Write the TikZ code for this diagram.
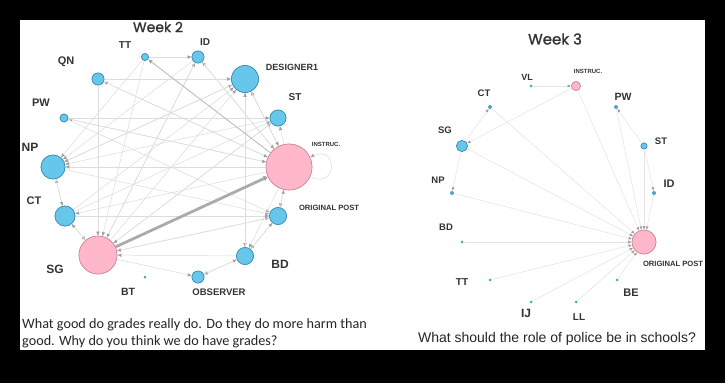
\documentclass[tikz,border=0pt]{standalone}
\usepackage{fontspec}
\setmainfont{Liberation Sans}
\newfontfamily\poppinsf{Poppins}[FakeBold=1.2]
\newfontfamily\carlitof{Carlito}
\usetikzlibrary{arrows.meta}
\definecolor{bluefill}{HTML}{66C7EA}
\definecolor{bluedark}{HTML}{3A8DB5}
\definecolor{dotblue}{HTML}{4AA3CF}
\definecolor{pinkfill}{HTML}{FFB7C9}
\definecolor{pinkdark}{HTML}{C98A99}
\definecolor{edgegray}{HTML}{DCDCDC}
\definecolor{edgemid}{HTML}{BDBDBD}
\definecolor{thickgray}{HTML}{ABABAB}
\definecolor{arrowgray}{HTML}{9E9E9E}
\definecolor{lblgray}{HTML}{333333}
\newcommand{\lsz}[1]{\fontsize{#1}{#1}\selectfont}
\tikzset{
  bnode/.style={circle, draw=bluedark, fill=bluefill, line width=0.6pt, inner sep=0pt, minimum size=#1},
  pnode/.style={circle, draw=pinkdark, fill=pinkfill, line width=0.6pt, inner sep=0pt, minimum size=#1},
  dotnode/.style={circle, fill=dotblue, inner sep=0pt, minimum size=#1},
  lbl/.style={text=lblgray, inner sep=0pt, font=\bfseries\lsz{#1}},
  lnk/.style={draw=edgegray, line width=0.5pt, -{Latex[length=4pt,width=3.5pt,color=arrowgray]}},
  lnkmid/.style={draw=edgemid, line width=0.9pt, -{Latex[length=4.5pt,width=4pt,color=arrowgray]}},
  lnkthick/.style={draw=thickgray, line width=2.8pt, -{Latex[length=4pt,width=6pt,color=arrowgray]}},
  lnkr/.style={draw=edgegray!80, line width=0.5pt, -{Latex[length=3.5pt,width=3pt,color=arrowgray]}},
}
\begin{document}
\begin{tikzpicture}[x=1pt,y=-1pt]
\useasboundingbox (0,0) rectangle (725,383);
\fill[black] (0,0) rectangle (725,383);
\fill[white] (20,20) rectangle (705,350);

% ---------- Week 2 ----------
\node[font=\poppinsf\lsz{14}, text=lblgray, inner sep=0pt] (w2) at (158,27) {Week 2};

\node[bnode=7pt]  (ttl)  at (145,57) {};
\node[bnode=12pt] (idl)  at (198,57) {};
\node[bnode=27pt] (dsl)  at (245,79) {};
\node[bnode=12pt] (qnl)  at (98,79) {};
\node[bnode=8pt]  (pwl)  at (64,118) {};
\node[bnode=16pt] (stl)  at (278,118) {};
\node[bnode=24pt] (npl)  at (53,167) {};
\node[pnode=46pt] (instl) at (289,167) {};
\node[bnode=20pt] (ctl)  at (65,216) {};
\node[bnode=17pt] (opl)  at (278,216) {};
\node[pnode=38pt] (sgl)  at (98,255) {};
\node[bnode=17pt] (bdl)  at (245,256) {};
\node[dotnode=3pt] (btl) at (145,277) {};
\node[bnode=12pt] (obsl) at (198,277) {};

\foreach \a/\b in {instl/qnl, instl/pwl, instl/npl, instl/ctl, instl/stl, instl/idl,
  instl/opl, opl/instl, instl/dsl, ttl/idl, qnl/dsl, pwl/stl, pwl/opl, pwl/instl,
  npl/dsl, npl/opl, ctl/npl, npl/ctl, ctl/dsl, ctl/stl, ctl/sgl, sgl/ctl, sgl/idl,
  sgl/stl, sgl/opl, qnl/sgl, idl/sgl, idl/npl, dsl/npl, ttl/sgl, ttl/npl, dsl/bdl,
  bdl/dsl, opl/bdl, bdl/opl, bdl/obsl, obsl/bdl, bdl/sgl, sgl/obsl, stl/sgl,
  instl/bdl, ctl/opl, qnl/instl, idl/instl, stl/npl, dsl/instl, opl/sgl}
  \draw[lnk] (\a) -- (\b);
\draw[lnkmid] (instl) -- (ttl);
\draw[lnk] (sgl) -- (dsl);
\draw[lnkthick] (sgl) -- (instl);
\draw[lnk] (instl) to[out=-25,in=25,looseness=4] (instl);

\node[bnode=7pt]  at (145,57) {};
\node[bnode=12pt] at (198,57) {};
\node[bnode=27pt] at (245,79) {};
\node[bnode=12pt] at (98,79) {};
\node[bnode=8pt]  at (64,118) {};
\node[bnode=16pt] at (278,118) {};
\node[bnode=24pt] at (53,167) {};
\node[pnode=46pt] at (289,167) {};
\node[bnode=20pt] at (65,216) {};
\node[bnode=17pt] at (278,216) {};
\node[pnode=38pt] at (98,255) {};
\node[bnode=17pt] at (245,256) {};
\node[bnode=12pt] at (198,277) {};

\node[lbl=10]  (lttl)  at (125,45) {TT};
\node[lbl=10]  (lidl)  at (205,42) {ID};
\node[lbl=9]   (ldsl)  at (292,67) {DESIGNER1};
\node[lbl=11]  (lqnl)  at (66,62) {QN};
\node[lbl=11]  (lpwl)  at (41,103) {PW};
\node[lbl=10]  (lstl)  at (295,97) {ST};
\node[lbl=6]   (linstl) at (326,144) {INSTRUC.};
\node[lbl=12]  (lnpl)  at (30,147) {NP};
\node[lbl=11]  (lctl)  at (34,201) {CT};
\node[lbl=7.6] (lopl)  at (329,208) {ORIGINAL POST};
\node[lbl=12]  (lsgl)  at (55,269) {SG};
\node[lbl=12]  (lbdl)  at (280,264) {BD};
\node[lbl=10.5] (lbtl) at (128,292) {BT};
\node[lbl=9.5] (lobsl) at (219,292) {OBSERVER};

\node[font=\carlitof\lsz{14.2}, text=black!85, inner sep=0pt, anchor=base west] (q2a) at (22,328)
  {What good do grades really do. Do they do more harm than};
\node[font=\carlitof\lsz{14.2}, text=black!85, inner sep=0pt, anchor=base west] (q2b) at (22,345)
  {good. Why do you think we do have grades?};

% ---------- Week 3 ----------
\node[font=\poppinsf\lsz{15}, text=lblgray, inner sep=0pt] (w3) at (555,39) {Week 3};

\node[dotnode=3pt] (vlr) at (531,86) {};
\node[pnode=9pt]   (instr) at (576,86) {};
\node[dotnode=4pt] (ctr) at (490,107) {};
\node[dotnode=4pt] (pwr) at (616,107) {};
\node[bnode=11pt]  (sgr) at (462,146) {};
\node[bnode=6pt]   (str) at (644,146) {};
\node[dotnode=4pt] (npr) at (452,193) {};
\node[dotnode=4pt] (idr) at (654,193) {};
\node[pnode=24pt]  (opr) at (644,242) {};
\node[dotnode=3pt] (bdr) at (462,242) {};
\node[dotnode=3pt] (ttr) at (490,280) {};
\node[dotnode=3pt] (ber) at (617,280) {};
\node[dotnode=3pt] (ijr) at (531,302) {};
\node[dotnode=3pt] (llr) at (576,302) {};

\foreach \a in {ctr, sgr, npr, bdr, ttr, ijr, llr, ber, pwr, str, idr, instr}
  \draw[lnkr] (\a) -- (opr);
\foreach \a/\b in {vlr/instr, instr/sgr, sgr/ctr, sgr/npr, str/pwr, str/idr}
  \draw[lnkr] (\a) -- (\b);

\node[pnode=9pt]  at (576,86) {};
\node[bnode=11pt] at (462,146) {};
\node[bnode=6pt]  at (644,146) {};
\node[pnode=24pt] at (644,242) {};

\node[lbl=9]   (lvlr) at (527,77) {VL};
\node[lbl=6]   (linstr) at (588,71) {INSTRUC.};
\node[lbl=9.5] (lctr) at (484,93) {CT};
\node[lbl=10.5] (lpwr) at (623,97) {PW};
\node[lbl=9.5] (lsgr) at (445,130) {SG};
\node[lbl=9.5] (lstr) at (661,141) {ST};
\node[lbl=9.5] (lnpr) at (438,180) {NP};
\node[lbl=11]  (lidr) at (669,184) {ID};
\node[lbl=9.5] (lbdr) at (446,227) {BD};
\node[lbl=7.6] (lopr) at (673,264) {ORIGINAL POST};
\node[lbl=10]  (lttr) at (462,282) {TT};
\node[lbl=11]  (lber) at (631,293) {BE};
\node[lbl=12]  (lijr) at (526,313) {IJ};
\node[lbl=10]  (lllr) at (579,317) {LL};

\node[font=\lsz{14}, text=black!85, inner sep=0pt, anchor=base] (q3) at (557,342)
  {What should the role of police be in schools?};
\end{tikzpicture}
\end{document}
